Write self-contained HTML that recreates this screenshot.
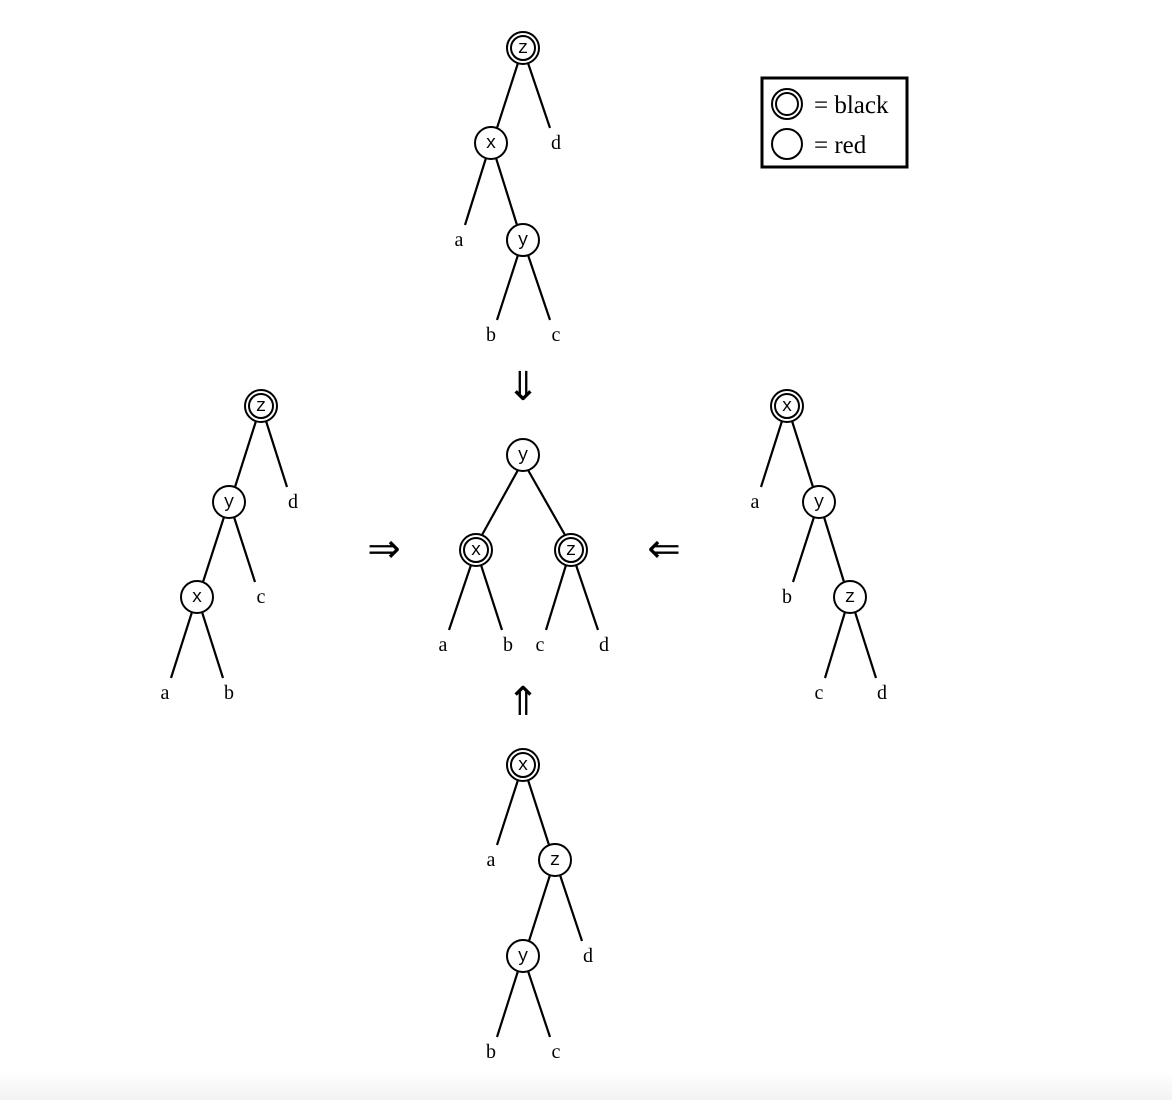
<!DOCTYPE html>
<html><head><meta charset="utf-8">
<style>
html,body{margin:0;padding:0;background:#fff;}
svg{display:block;}
.lbl{font-family:"Liberation Serif",serif;font-size:20px;fill:#000;}
.nl{font-family:"Liberation Mono",monospace;font-size:18px;fill:#000;}
</style></head>
<body>
<svg id="s" width="1172" height="1100" xmlns="http://www.w3.org/2000/svg">
<defs><linearGradient id="g" x1="0" y1="0" x2="0" y2="1"><stop offset="0" stop-color="#fff"/><stop offset="1" stop-color="#f3f3f3"/></linearGradient></defs>
<rect x="0" y="1070" width="1172" height="30" fill="url(#g)"/>
<g>
<rect x="762" y="78" width="145" height="89" fill="#fff" stroke="#000" stroke-width="3"/>
<circle cx="787" cy="104" r="15" fill="none" stroke="#000" stroke-width="2"/>
<circle cx="787" cy="104" r="11" fill="none" stroke="#000" stroke-width="2"/>
<text x="814" y="113" class="lbl" style="font-size:25px">= black</text>
<circle cx="787" cy="144" r="15" fill="none" stroke="#000" stroke-width="2"/>
<text x="814" y="153" class="lbl" style="font-size:25px">= red</text>
</g>
<text x="523" y="400" class="lbl" style="font-size:40px" text-anchor="middle">⇓</text>
<text x="523" y="715" class="lbl" style="font-size:40px" text-anchor="middle">⇑</text>
<text x="384" y="562" class="lbl" style="font-size:40px" text-anchor="middle">⇒</text>
<text x="664" y="562" class="lbl" style="font-size:40px" text-anchor="middle">⇐</text>
</svg>
<script>
// nodes: [id, label, x, y, kind] kind: b=black, r=red, l=leaf
const topTree=[["z","z",523,48,"b"],["x","x",491,143,"r"],["d","d",556,143,"l"],["a","a",459,240,"l"],["y","y",523,240,"r"],["b","b",491,335,"l"],["c","c",556,335,"l"]];
const topEdges=[["z","x"],["z","d"],["x","a"],["x","y"],["y","b"],["y","c"]];
const midTree=[["y","y",523,455,"r"],["x","x",476,550,"b"],["z","z",571,550,"b"],["a","a",443,645,"l"],["b","b",508,645,"l"],["c","c",540,645,"l"],["d","d",604,645,"l"]];
const midEdges=[["y","x"],["y","z"],["x","a"],["x","b"],["z","c"],["z","d"]];
const leftTree=[["z","z",261,406,"b"],["y","y",229,502,"r"],["d","d",293,502,"l"],["x","x",197,597,"r"],["c","c",261,597,"l"],["a","a",165,693,"l"],["b","b",229,693,"l"]];
const leftEdges=[["z","y"],["z","d"],["y","x"],["y","c"],["x","a"],["x","b"]];
const rightTree=[["x","x",787,406,"b"],["a","a",755,502,"l"],["y","y",819,502,"r"],["b","b",787,597,"l"],["z","z",850,597,"r"],["c","c",819,693,"l"],["d","d",882,693,"l"]];
const rightEdges=[["x","a"],["x","y"],["y","b"],["y","z"],["z","c"],["z","d"]];
const botTree=[["x","x",523,765,"b"],["a","a",491,860,"l"],["z","z",555,860,"r"],["y","y",523,956,"r"],["d","d",588,956,"l"],["b","b",491,1052,"l"],["c","c",556,1052,"l"]];
const botEdges=[["x","a"],["x","z"],["z","y"],["z","d"],["y","b"],["y","c"]];
const NS="http://www.w3.org/2000/svg";
const svg=document.getElementById("s");
function mk(t,a,p){const e=document.createElementNS(NS,t);for(const k in a)e.setAttribute(k,a[k]);p.appendChild(e);return e;}
function draw(name,nodes,edges){
  const g=mk("g",{},svg);
  
  
  const m={};nodes.forEach(n=>m[n[0]]=n);
  edges.forEach(e=>{const p=m[e[0]],c=m[e[1]];const s=Math.sign(c[2]-p[2]);
    const l=mk("line",{x1:p[2]+s*5,y1:p[3]+15,x2:c[2]-s*6,y2:c[3]-15,stroke:"#000","stroke-width":2.2},g);
    
    
  });
  nodes.forEach(n=>{
    if(n[4]!=="l"){
      const c=mk("circle",{cx:n[2],cy:n[3],r:16,fill:"#fff",stroke:"#000","stroke-width":2},g);
      
      
      if(n[4]==="b"){const c2=mk("circle",{cx:n[2],cy:n[3],r:12,fill:"none",stroke:"#000","stroke-width":2},g);
        
        }
      const t=mk("text",{x:n[2],y:n[3]+5,"text-anchor":"middle",class:"nl"},g);t.textContent=n[1];
      
      
    }else{
      const t=mk("text",{x:n[2],y:n[3]+6,"text-anchor":"middle",class:"lbl"},g);t.textContent=n[1];
      
      
    }
  });
}
draw("tree-top",topTree,topEdges);
draw("tree-center",midTree,midEdges);
draw("tree-left",leftTree,leftEdges);
draw("tree-right",rightTree,rightEdges);
draw("tree-bottom",botTree,botEdges);
</script>
</body></html>
